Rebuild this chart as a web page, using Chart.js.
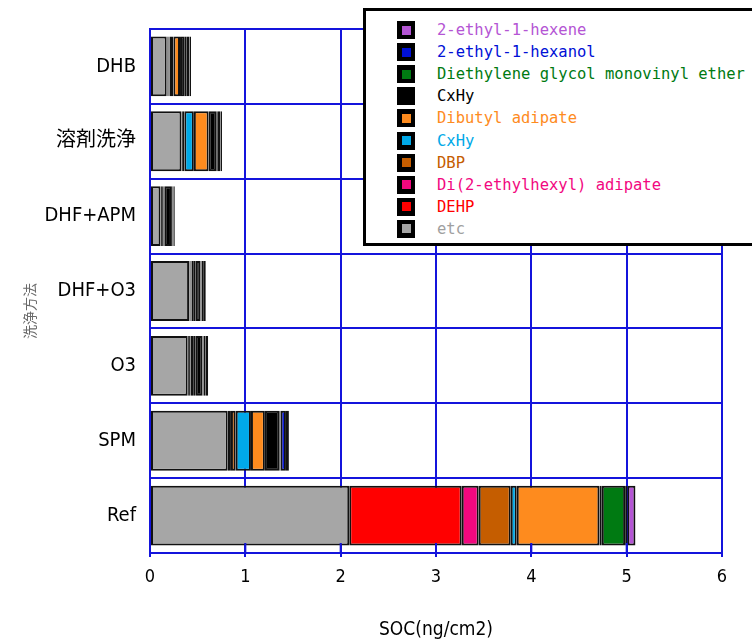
<!DOCTYPE html>
<html>
<head>
<meta charset="utf-8">
<script src="https://cdn.jsdelivr.net/npm/chart.js@4/dist/chart.umd.min.js"></script>
<style>
  html, body { margin: 0; padding: 0; background: #fff; }
  #wrap { position: relative; width: 752px; height: 644px; overflow: hidden; }
  #legend {
    position: absolute; left: 363px; top: 8px; width: 420px; height: 232px;
    border: 3px solid #000; background: #fff; box-sizing: content-box;
    font-family: 'DejaVu Sans Mono', 'Liberation Mono', monospace; font-size: 15.5px;
  }
  .row { position: absolute; left: 0; height: 22px; line-height: 22px; white-space: nowrap; }
  .mk { position: absolute; left: 31px; top: 2px; width: 18px; height: 18px; background: #000; }
  .mk i { position: absolute; left: 4.5px; top: 4.5px; width: 9px; height: 9px; }
  .tx { position: absolute; left: 71px; top: 0; }
</style>
</head>
<body>
<div id="wrap">
  <canvas id="c" width="752" height="644"></canvas>
  <div id="legend"></div>
</div>
<script>
// ---- data ----
const categories = ['DHB', '溶剤洗浄', 'DHF+APM', 'DHF+O3', 'O3', 'SPM', 'Ref'];
const xTicks = [0, 1, 2, 3, 4, 5, 6];

const etc            = [0.175, 0.33,  0.11,  0.41,  0.395, 0.815, 2.09];
const DEHP           = [0.01,  0.005, 0.005, 0.005, 0.005, 0.024, 1.18];
const DiEHA          = [0.01,  0.01,  0.01,  0.01,  0.01,  0.01,  0.178];
const DBP            = [0.01,  0.015, 0.01,  0.01,  0.015, 0.05,  0.336];
const CxHyCyan       = [0.04,  0.10,  0.005, 0.025, 0.035, 0.16,  0.063];
const dibutylAdipate = [0.07,  0.155, 0.01,  0.02,  0.02,  0.146, 0.867];
const CxHyBlack      = [0.05,  0.08,  0.08,  0.05,  0.07,  0.151, 0.025];
const diethyleneGME  = [0.015, 0.01,  0.005, 0.01,  0.01,  0.013, 0.245];
const ethylHexanol   = [0.035, 0.035, 0.01,  0.025, 0.02,  0.057, 0.024];
const ethylHexene    = [0.015, 0.015, 0.015, 0.02,  0.03,  0.031, 0.084];

const seriesNames = ['etc', 'DEHP', 'Di(2-ethylhexyl) adipate', 'DBP', 'CxHy', 'Dibutyl adipate',
  'CxHy', 'Diethylene glycol monovinyl ether', '2-ethyl-1-hexanol', '2-ethyl-1-hexene'];
const seriesValues = [etc, DEHP, DiEHA, DBP, CxHyCyan, dibutylAdipate, CxHyBlack, diethyleneGME, ethylHexanol, ethylHexene];

// ---- styles ----
const seriesColors = ['#a6a6a6', '#ff0000', '#f2087f', '#c55d00', '#00a9e8', '#fe8b1e',
  '#000000', '#007a12', '#0010d6', '#b455d4'];
const textColors = ['#a0a0a0', '#ff0000', '#f2087f', '#c55d00', '#00a9e8', '#fe8b1e',
  '#000000', '#007a12', '#0010d6', '#b455d4'];
const gridBlue = '#1414dc';
const tickFont = "'Liberation Sans Narrow', 'DejaVu Sans Condensed', 'Noto Sans CJK JP', sans-serif";

const datasets = seriesNames.map((n, i) => ({
  label: n,
  data: seriesValues[i],
  backgroundColor: seriesColors[i],
  borderColor: '#111',
  borderWidth: 2,
  borderSkipped: false,
  barPercentage: 0.8,
  categoryPercentage: 1.0
}));

const innerTicks = {
  id: 'innerTicks',
  afterDatasetsDraw(chart) {
    const ctx = chart.ctx, xs = chart.scales.x, a = chart.chartArea;
    ctx.save();
    ctx.strokeStyle = gridBlue; ctx.lineWidth = 2;
    xTicks.forEach(v => {
      const px = xs.getPixelForValue(v);
      ctx.beginPath(); ctx.moveTo(px, a.bottom - 10); ctx.lineTo(px, a.bottom); ctx.stroke();
    });
    // y axis title
    ctx.fillStyle = '#6a6a6a';
    ctx.font = "14px 'Noto Sans CJK JP', sans-serif";
    ctx.translate(30, 311);
    ctx.rotate(-Math.PI / 2);
    ctx.textAlign = 'center'; ctx.textBaseline = 'middle';
    ctx.fillText('洗浄方法', 0, 0);
    ctx.restore();
  }
};

new Chart(document.getElementById('c'), {
  type: 'bar',
  data: { labels: categories, datasets },
  options: {
    indexAxis: 'y',
    responsive: false,
    animation: false,
    events: [],
    layout: { padding: { top: 29, right: 30, left: 0, bottom: 0 } },
    plugins: { legend: { display: false }, tooltip: { enabled: false } },
    scales: {
      x: {
        stacked: true, min: 0, max: 6,
        afterBuildTicks(s) { s.ticks = xTicks.map(v => ({ value: v })); },
        afterFit(s) { s.height = 91; },
        grid: { color: gridBlue, lineWidth: 2, tickLength: 4, drawTicks: true },
        border: { color: gridBlue, width: 2 },
        ticks: { color: '#000', padding: 10, font: { family: tickFont, size: 18 } },
        title: { display: true, text: 'SOC(ng/cm2)', color: '#000', padding: { top: 0, bottom: 3 },
                 font: { family: tickFont, size: 19 } }
      },
      y: {
        stacked: true,
        afterFit(s) { s.width = 150; },
        grid: { color: gridBlue, lineWidth: 2, drawTicks: false, offset: true },
        border: { color: gridBlue, width: 2 },
        ticks: { color: '#000', padding: 14, font: { family: tickFont, size: 20 } }
      }
    }
  },
  plugins: [innerTicks]
});

// ---- HTML legend built from the series (reversed order) ----
const lg = document.getElementById('legend');
for (let k = 0; k < seriesNames.length; k++) {
  const i = seriesNames.length - 1 - k;
  const row = document.createElement('div');
  row.className = 'row';
  row.style.top = (8 + k * 22.1) + 'px';
  const mk = document.createElement('div'); mk.className = 'mk';
  const inner = document.createElement('i'); inner.style.background = seriesColors[i];
  mk.appendChild(inner);
  const tx = document.createElement('span'); tx.className = 'tx';
  tx.textContent = seriesNames[i]; tx.style.color = textColors[i];
  row.appendChild(mk); row.appendChild(tx);
  lg.appendChild(row);
}
</script>
</body>
</html>
